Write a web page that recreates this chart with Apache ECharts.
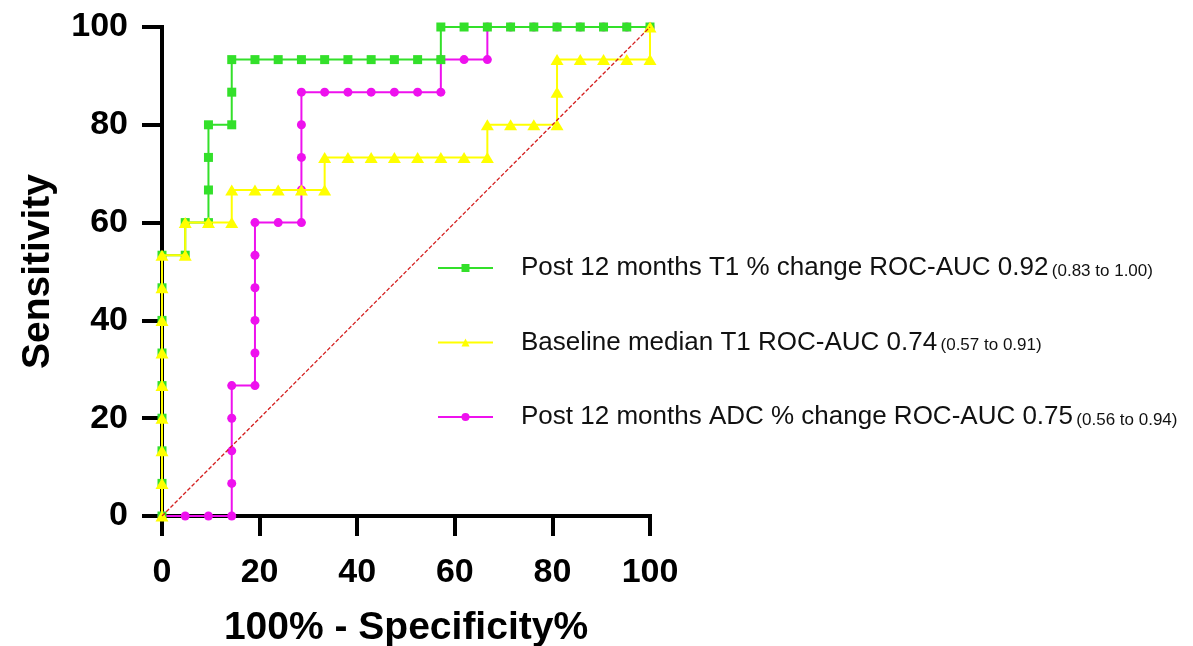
<!DOCTYPE html>
<html>
<head>
<meta charset="utf-8">
<title>ROC curves</title>
<script src="https://cdn.jsdelivr.net/npm/echarts@6/dist/echarts.min.js"></script>
<style>
  html, body { margin: 0; padding: 0; background: #ffffff; }
  #chart { width: 1193px; height: 646px; }
</style>
</head>
<body>
<div id="chart"></div>
<script>
// ROC curves: x = 100% - Specificity%, y = Sensitivity (%)
const seriesNames = [
  'Post 12 months T1 % change ROC-AUC 0.92',
  'Baseline median T1 ROC-AUC 0.74',
  'Post 12 months ADC % change ROC-AUC 0.75'
];
const aucIntervals = ['(0.83 to 1.00)', '(0.57 to 0.91)', '(0.56 to 0.94)'];

const t1ChangePoints = [
  [0, 0], [0, 6.67], [0, 13.33], [0, 20], [0, 26.67], [0, 33.33], [0, 40], [0, 46.67], [0, 53.33],
  [4.76, 53.33], [4.76, 60], [9.52, 60], [9.52, 66.67], [9.52, 73.33], [9.52, 80],
  [14.29, 80], [14.29, 86.67], [14.29, 93.33], [19.05, 93.33], [23.81, 93.33], [28.57, 93.33],
  [33.33, 93.33], [38.10, 93.33], [42.86, 93.33], [47.62, 93.33], [52.38, 93.33], [57.14, 93.33],
  [57.14, 100], [61.90, 100], [66.67, 100], [71.43, 100], [76.19, 100], [80.95, 100],
  [85.71, 100], [90.48, 100], [95.24, 100], [100, 100]
];

const baselineT1Points = [
  [0, 0], [0, 6.67], [0, 13.33], [0, 20], [0, 26.67], [0, 33.33], [0, 40], [0, 46.67], [0, 53.33],
  [4.76, 53.33], [4.76, 60], [9.52, 60], [14.29, 60], [14.29, 66.67], [19.05, 66.67],
  [23.81, 66.67], [28.57, 66.67], [33.33, 66.67], [33.33, 73.33], [38.10, 73.33], [42.86, 73.33],
  [47.62, 73.33], [52.38, 73.33], [57.14, 73.33], [61.90, 73.33], [66.67, 73.33], [66.67, 80],
  [71.43, 80], [76.19, 80], [80.95, 80], [80.95, 86.67], [80.95, 93.33], [85.71, 93.33],
  [90.48, 93.33], [95.24, 93.33], [100, 93.33], [100, 100]
];

const adcChangePoints = [
  [0, 0], [4.76, 0], [9.52, 0], [14.29, 0], [14.29, 6.67], [14.29, 13.33], [14.29, 20], [14.29, 26.67],
  [19.05, 26.67], [19.05, 33.33], [19.05, 40], [19.05, 46.67], [19.05, 53.33], [19.05, 60],
  [23.81, 60], [28.57, 60], [28.57, 66.67], [28.57, 73.33], [28.57, 80], [28.57, 86.67],
  [33.33, 86.67], [38.10, 86.67], [42.86, 86.67], [47.62, 86.67], [52.38, 86.67], [57.14, 86.67],
  [57.14, 93.33], [61.90, 93.33], [66.67, 93.33], [66.67, 100], [71.43, 100], [76.19, 100],
  [80.95, 100], [85.71, 100], [90.48, 100], [95.24, 100], [100, 100]
];

// line of no discrimination
const chanceLine = [[0, 0], [100, 100]];

const axisTicks = [0, 20, 40, 60, 80, 100];

const FONT = 'Liberation Sans, Arial, Helvetica, sans-serif';
const GREEN = '#33e02a';
const YELLOW = '#ffff00';
const MAGENTA = '#ee11ee';

const chart = echarts.init(document.getElementById('chart'), null, { renderer: 'canvas' });

const axisCommon = {
  type: 'value',
  min: axisTicks[0],
  max: axisTicks[axisTicks.length - 1],
  interval: axisTicks[1] - axisTicks[0],
  nameLocation: 'middle',
  nameTextStyle: { fontFamily: FONT, fontWeight: 'bold', fontSize: 39, color: '#000' },
  axisLine: { show: true, onZero: false, lineStyle: { color: '#000', width: 4, cap: 'square' } },
  axisTick: { show: true, inside: false, length: 20, lineStyle: { color: '#000', width: 4 } },
  axisLabel: { fontFamily: FONT, fontWeight: 'bold', fontSize: 34, color: '#000', margin: 34 },
  splitLine: { show: false }
};

const option = {
  animation: false,
  backgroundColor: '#ffffff',
  grid: { left: 162, right: 543, top: 27, bottom: 130, outerBoundsMode: 'none' },
  xAxis: Object.assign({}, axisCommon, {
    name: '100% - Specificity%',
    nameGap: 93,
    axisLabel: Object.assign({}, axisCommon.axisLabel, { margin: 40 })
  }),
  yAxis: Object.assign({}, axisCommon, { name: 'Sensitivity', nameGap: 104 }),
  legend: {
    orient: 'vertical',
    left: 437,
    top: 255,
    padding: 0,
    itemWidth: 55,
    itemHeight: 10,
    itemGap: 48.5,
    data: seriesNames,
    formatter: function (name) {
      const i = seriesNames.indexOf(name);
      return '{a|' + name + '} {b|' + aucIntervals[i] + '}';
    },
    textStyle: {
      padding: [0, 0, 0, 23],
      rich: {
        a: { fontFamily: FONT, fontSize: 26, color: '#111', lineHeight: 30 },
        b: { fontFamily: FONT, fontSize: 17, color: '#111', lineHeight: 24, padding: [6, 0, 0, 0] }
      }
    }
  },
  series: [
    {
      name: seriesNames[2],
      type: 'line',
      data: adcChangePoints,
      symbol: 'circle',
      symbolSize: 9,
      z: 2,
      itemStyle: { color: MAGENTA },
      lineStyle: { color: MAGENTA, width: 2 }
    },
    {
      name: seriesNames[0],
      type: 'line',
      data: t1ChangePoints,
      symbol: 'rect',
      symbolSize: 9,
      z: 3,
      itemStyle: { color: GREEN },
      lineStyle: { color: GREEN, width: 2 }
    },
    {
      name: seriesNames[1],
      type: 'line',
      data: baselineT1Points,
      symbol: 'triangle',
      symbolSize: [13, 11],
      z: 4,
      itemStyle: { color: YELLOW },
      lineStyle: { color: YELLOW, width: 2 }
    },
    {
      name: 'chance',
      type: 'line',
      data: chanceLine,
      symbol: 'none',
      silent: true,
      z: 5,
      itemStyle: { color: '#d42020' },
      lineStyle: { color: '#d42020', width: 1.3, type: [4, 2] }
    }
  ]
};

chart.setOption(option);
</script>
</body>
</html>
